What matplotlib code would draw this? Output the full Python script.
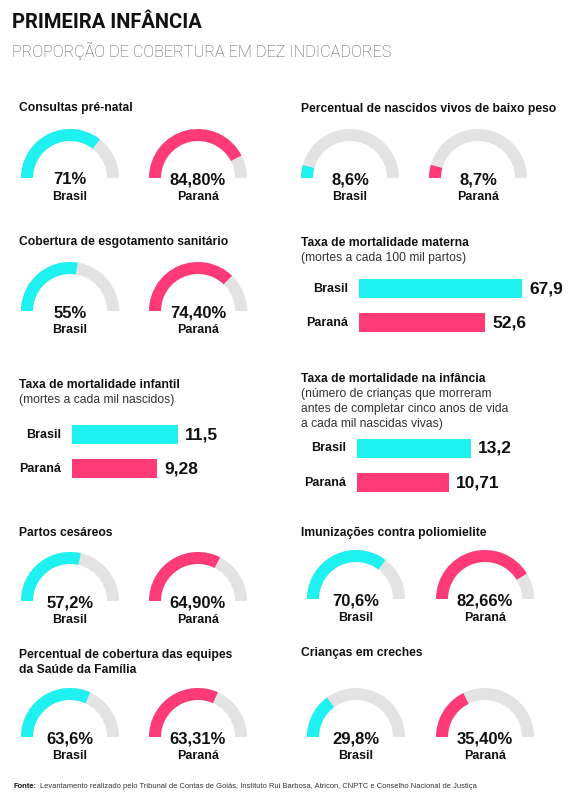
import matplotlib.pyplot as plt
from matplotlib.patches import Wedge

# Figure in pixel units
W, H = 583, 799
CYAN = '#1ff0f0'
PINK = '#ff3b77'
GREY = '#e3e3e3'
FONT = 'Liberation Sans'

places = ['Brasil', 'Paraná']

# Gauge indicators (percent of coverage)
consultas = [71, 84.80]
consultas_txt = ['71%', '84,80%']
baixo_peso = [8.6, 8.7]
baixo_peso_txt = ['8,6%', '8,7%']
esgoto = [55, 74.40]
esgoto_txt = ['55%', '74,40%']
cesareos = [57.2, 64.90]
cesareos_txt = ['57,2%', '64,90%']
polio = [70.6, 82.66]
polio_txt = ['70,6%', '82,66%']
saude_familia = [63.6, 63.31]
saude_familia_txt = ['63,6%', '63,31%']
creches = [29.8, 35.40]
creches_txt = ['29,8%', '35,40%']

# Bar indicators
materna = [67.9, 52.6]
materna_txt = ['67,9', '52,6']
infantil = [11.5, 9.28]
infantil_txt = ['11,5', '9,28']
infancia = [13.2, 10.71]
infancia_txt = ['13,2', '10,71']

fig = plt.figure(figsize=(5.83, 7.99), dpi=100)
ax = fig.add_axes([0, 0, 1, 1])
ax.set_xlim(0, W)
ax.set_ylim(H, 0)
ax.axis('off')


def box(x0, y0, x1, y1):
    return [x0 / W, 1 - y1 / H, (x1 - x0) / W, (y1 - y0) / H]


def title(x, y, lines, sub=None, sub_bold=False):
    ax.text(x, y, lines, fontsize=8.7, fontweight='bold', family=FONT,
            color='#111111', va='center', ha='left')
    if sub:
        for i, s in enumerate(sub):
            ax.text(x, y + 15 * (i + 1), s, fontsize=8.7, family=FONT,
                    fontweight='bold' if sub_bold else 'normal',
                    color='#111111' if sub_bold else '#333333',
                    va='center', ha='left')


def gauges(centers, cy, vals, txts):
    R, TH = 49, 12
    for cx, v, t, p, c in zip(centers, vals, txts, places, [CYAN, PINK]):
        ax.add_patch(Wedge((cx, cy), R, 180, 360, width=TH, color=GREY, lw=0))
        ax.add_patch(Wedge((cx, cy), R, 180, 180 + 1.8 * v, width=TH, color=c, lw=0))
        ax.text(cx, cy + 2, t, fontsize=12, fontweight='bold', family=FONT,
                ha='center', va='center', color='#111111')
        ax.text(cx, cy + 19, p, fontsize=9, fontweight='bold', family=FONT,
                ha='center', va='center', color='#111111')


def bars(x0, c1, spacing, scale, vals, txts):
    span = 175
    bx = fig.add_axes(box(x0, c1 - spacing / 2, x0 + span, c1 + 1.5 * spacing))
    bx.set_xlim(0, span / scale)
    bx.set_ylim(1.5, -0.5)
    bx.barh([0, 1], vals, height=19 / spacing, color=[CYAN, PINK])
    bx.axis('off')
    for i, (v, t, p) in enumerate(zip(vals, txts, places)):
        bx.annotate(p, (0, i), xytext=(-8, 0), textcoords='offset points',
                    ha='right', va='center', fontsize=9, fontweight='bold',
                    family=FONT, color='#111111')
        bx.annotate(t, (v, i), xytext=(5, 0), textcoords='offset points',
                    ha='left', va='center', fontsize=12.5, fontweight='bold',
                    family=FONT, color='#111111')


# Header
ax.text(12, 23, 'PRIMEIRA INFÂNCIA', fontsize=14.5, fontweight='bold',
        family='Roboto', ha='left', va='center', color='#111111')
ax.text(12, 51, 'PROPORÇÃO DE COBERTURA EM DEZ INDICADORES', fontsize=11.7,
        fontweight='light', family='Roboto', ha='left', va='center', color='#555555')

LX, RX = 19, 301
LC, RC = [70, 198], [350, 478]
RC2 = [356, 485]

title(LX, 108, 'Consultas pré-natal')
gauges(LC, 178, consultas, consultas_txt)

title(RX, 109, 'Percentual de nascidos vivos de baixo peso')
gauges(RC, 178, baixo_peso, baixo_peso_txt)

title(LX, 242, 'Cobertura de esgotamento sanitário')
gauges(LC, 311, esgoto, esgoto_txt)

title(RX, 243, 'Taxa de mortalidade materna', ['(mortes a cada 100 mil partos)'])
bars(359, 288.5, 34, 2.4, materna, materna_txt)

title(LX, 385, 'Taxa de mortalidade infantil', ['(mortes a cada mil nascidos)'])
bars(72, 434.5, 34, 9.2, infantil, infantil_txt)

title(RX, 379, 'Taxa de mortalidade na infância',
      ['(número de crianças que morreram', 'antes de completar cinco anos de vida',
       'a cada mil nascidas vivas)'])
bars(357, 448.5, 34.5, 8.6, infancia, infancia_txt)

title(LX, 533, 'Partos cesáreos')
gauges(LC, 601, cesareos, cesareos_txt)

title(RX, 533, 'Imunizações contra poliomielite')
gauges(RC2, 599, polio, polio_txt)

title(LX, 655, 'Percentual de cobertura das equipes', ['da Saúde da Família'], sub_bold=True)
gauges(LC, 737, saude_familia, saude_familia_txt)

title(RX, 653, 'Crianças em creches')
gauges(RC2, 737, creches, creches_txt)

# Footer: bold "Fonte:" followed by regular text
fonte = ax.text(14, 787, 'Fonte:', fontsize=5.4, fontweight='bold', family=FONT,
                ha='left', va='center', color='#111111')
fig.canvas.draw()
bb = fonte.get_window_extent()
ax.annotate('Levantamento realizado pelo Tribunal de Contas de Goiás, '
            'Instituto Rui Barbosa, Atricon, CNPTC e Conselho Nacional de Justiça',
            xy=(1, 0.5), xycoords=fonte, xytext=(2, 0), textcoords='offset points',
            fontsize=5.4, family=FONT, ha='left', va='center', color='#333333')

fig.savefig('out.png', dpi=100)
